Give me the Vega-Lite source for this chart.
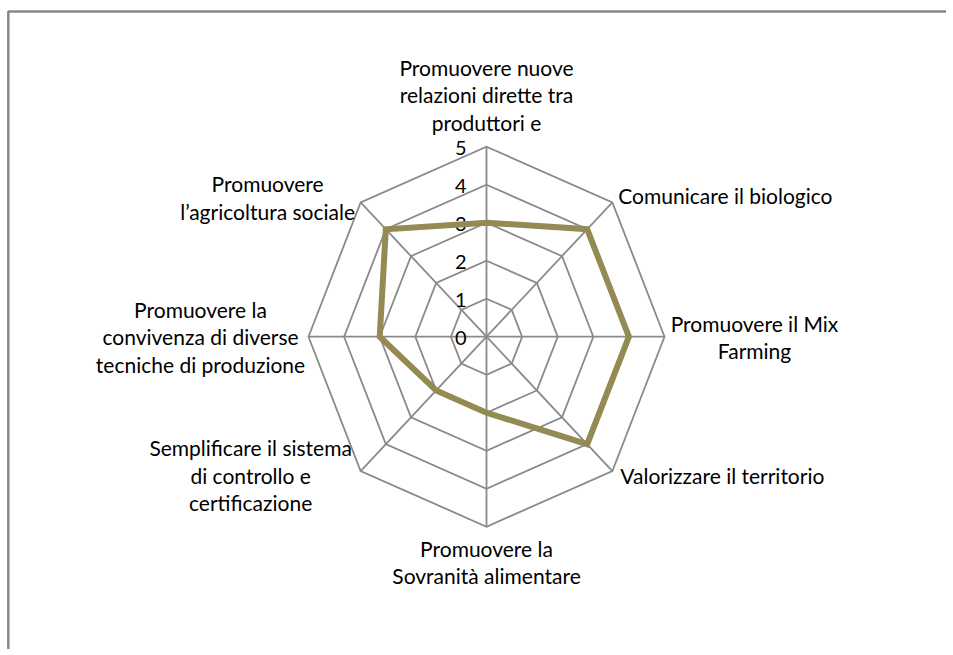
{
  "$schema": "https://vega.github.io/schema/vega-lite/v6.json",
  "autosize": {"type": "none"},
  "padding": {"left": 8, "top": 11, "right": 0, "bottom": 0},
  "width": 938,
  "height": 638,
  "background": "white",
  "config": {
    "view": {"stroke": null},
    "text": {"font": "Lato", "fontSize": 21, "color": "#000000"}
  },
  "datasets": {
    "cats": [
      {"i": 0, "label": "Promuovere nuove\nrelazioni dirette tra\nproduttori e", "value": 3},
      {"i": 1, "label": "Comunicare il biologico", "value": 4},
      {"i": 2, "label": "Promuovere il Mix\nFarming", "value": 4},
      {"i": 3, "label": "Valorizzare il territorio", "value": 4},
      {"i": 4, "label": "Promuovere la\nSovranità alimentare", "value": 2},
      {"i": 5, "label": "Semplificare il sistema\ndi controllo e\ncertificazione", "value": 2},
      {"i": 6, "label": "Promuovere la\nconvivenza di diverse\ntecniche di produzione", "value": 3},
      {"i": 7, "label": "Promuovere\nl’agricoltura sociale", "value": 4}
    ],
    "grid": [
      {"i": 0, "level": 1}, {"i": 1, "level": 1}, {"i": 2, "level": 1}, {"i": 3, "level": 1}, {"i": 4, "level": 1}, {"i": 5, "level": 1}, {"i": 6, "level": 1}, {"i": 7, "level": 1},
      {"i": 0, "level": 2}, {"i": 1, "level": 2}, {"i": 2, "level": 2}, {"i": 3, "level": 2}, {"i": 4, "level": 2}, {"i": 5, "level": 2}, {"i": 6, "level": 2}, {"i": 7, "level": 2},
      {"i": 0, "level": 3}, {"i": 1, "level": 3}, {"i": 2, "level": 3}, {"i": 3, "level": 3}, {"i": 4, "level": 3}, {"i": 5, "level": 3}, {"i": 6, "level": 3}, {"i": 7, "level": 3},
      {"i": 0, "level": 4}, {"i": 1, "level": 4}, {"i": 2, "level": 4}, {"i": 3, "level": 4}, {"i": 4, "level": 4}, {"i": 5, "level": 4}, {"i": 6, "level": 4}, {"i": 7, "level": 4},
      {"i": 0, "level": 5}, {"i": 1, "level": 5}, {"i": 2, "level": 5}, {"i": 3, "level": 5}, {"i": 4, "level": 5}, {"i": 5, "level": 5}, {"i": 6, "level": 5}, {"i": 7, "level": 5}
    ],
    "ticks": [{"t": 0}, {"t": 1}, {"t": 2}, {"t": 3}, {"t": 4}, {"t": 5}]
  },
  "encoding": {
    "x": {"field": "x", "type": "quantitative", "scale": {"domain": [-13.441, 12.907], "nice": false, "zero": false}, "axis": null},
    "y": {"field": "y", "type": "quantitative", "scale": {"domain": [-8.218, 8.571], "nice": false, "zero": false}, "axis": null}
  },
  "layer": [
    {
      "data": {"values": [{}]},
      "transform": [
        {"calculate": "-13.441", "as": "x"},
        {"calculate": "8.555", "as": "y"}
      ],
      "mark": {"type": "rule", "color": "#878787", "strokeWidth": 2.5},
      "encoding": {"x2": {"datum": 12.907}}
    },
    {
      "data": {"values": [{}]},
      "transform": [
        {"calculate": "-13.432", "as": "x"},
        {"calculate": "8.571", "as": "y"}
      ],
      "mark": {"type": "rule", "color": "#878787", "strokeWidth": 2.5},
      "encoding": {"y2": {"datum": -8.218}}
    },
    {
      "data": {"name": "grid"},
      "transform": [
        {"calculate": "datum.level * sin(datum.i * PI / 4)", "as": "x"},
        {"calculate": "datum.level * cos(datum.i * PI / 4)", "as": "y"}
      ],
      "mark": {"type": "line", "interpolate": "linear-closed", "color": "#8a8a8a", "strokeWidth": 1.8},
      "encoding": {"detail": {"field": "level", "type": "nominal"}, "order": {"field": "i", "type": "quantitative"}}
    },
    {
      "data": {"name": "cats"},
      "transform": [
        {"calculate": "5 * sin(datum.i * PI / 4)", "as": "x"},
        {"calculate": "5 * cos(datum.i * PI / 4)", "as": "y"}
      ],
      "mark": {"type": "rule", "color": "#8a8a8a", "strokeWidth": 1.8},
      "encoding": {"x2": {"datum": 0}, "y2": {"datum": 0}}
    },
    {
      "data": {"name": "ticks"},
      "transform": [
        {"calculate": "0", "as": "x"},
        {"calculate": "datum.t", "as": "y"}
      ],
      "mark": {"type": "text", "align": "right", "baseline": "middle", "dx": -20, "dy": 2, "fontSize": 20},
      "encoding": {"text": {"field": "t", "type": "quantitative"}}
    },
    {
      "data": {"name": "cats"},
      "transform": [
        {"calculate": "datum.value * sin(datum.i * PI / 4)", "as": "x"},
        {"calculate": "datum.value * cos(datum.i * PI / 4)", "as": "y"}
      ],
      "mark": {"type": "line", "interpolate": "linear-closed", "color": "#948A54", "strokeWidth": 6},
      "encoding": {"order": {"field": "i", "type": "quantitative"}}
    },
    {
      "data": {"name": "cats"},
      "transform": [
        {"filter": "datum.i == 0"},
        {"calculate": "5 * sin(datum.i * PI / 4)", "as": "x"},
        {"calculate": "5 * cos(datum.i * PI / 4)", "as": "y"}
      ],
      "mark": {"type": "text", "align": "center", "baseline": "middle", "lineBreak": "\n", "lineHeight": 27.5, "dx": 0, "dy": -77},
      "encoding": {"text": {"field": "label"}}
    },
    {
      "data": {"name": "cats"},
      "transform": [
        {"filter": "datum.i == 1"},
        {"calculate": "5 * sin(datum.i * PI / 4)", "as": "x"},
        {"calculate": "5 * cos(datum.i * PI / 4)", "as": "y"}
      ],
      "mark": {"type": "text", "align": "center", "baseline": "middle", "lineBreak": "\n", "lineHeight": 27.5, "dx": 113, "dy": -4},
      "encoding": {"text": {"field": "label"}}
    },
    {
      "data": {"name": "cats"},
      "transform": [
        {"filter": "datum.i == 2"},
        {"calculate": "5 * sin(datum.i * PI / 4)", "as": "x"},
        {"calculate": "5 * cos(datum.i * PI / 4)", "as": "y"}
      ],
      "mark": {"type": "text", "align": "center", "baseline": "middle", "lineBreak": "\n", "lineHeight": 27.5, "dx": 90, "dy": -11},
      "encoding": {"text": {"field": "label"}}
    },
    {
      "data": {"name": "cats"},
      "transform": [
        {"filter": "datum.i == 3"},
        {"calculate": "5 * sin(datum.i * PI / 4)", "as": "x"},
        {"calculate": "5 * cos(datum.i * PI / 4)", "as": "y"}
      ],
      "mark": {"type": "text", "align": "center", "baseline": "middle", "lineBreak": "\n", "lineHeight": 27.5, "dx": 110, "dy": 7},
      "encoding": {"text": {"field": "label"}}
    },
    {
      "data": {"name": "cats"},
      "transform": [
        {"filter": "datum.i == 4"},
        {"calculate": "5 * sin(datum.i * PI / 4)", "as": "x"},
        {"calculate": "5 * cos(datum.i * PI / 4)", "as": "y"}
      ],
      "mark": {"type": "text", "align": "center", "baseline": "middle", "lineBreak": "\n", "lineHeight": 27.5, "dx": 0, "dy": 24},
      "encoding": {"text": {"field": "label"}}
    },
    {
      "data": {"name": "cats"},
      "transform": [
        {"filter": "datum.i == 5"},
        {"calculate": "5 * sin(datum.i * PI / 4)", "as": "x"},
        {"calculate": "5 * cos(datum.i * PI / 4)", "as": "y"}
      ],
      "mark": {"type": "text", "align": "center", "baseline": "middle", "lineBreak": "\n", "lineHeight": 27.5, "dx": -110, "dy": -21},
      "encoding": {"text": {"field": "label"}}
    },
    {
      "data": {"name": "cats"},
      "transform": [
        {"filter": "datum.i == 6"},
        {"calculate": "5 * sin(datum.i * PI / 4)", "as": "x"},
        {"calculate": "5 * cos(datum.i * PI / 4)", "as": "y"}
      ],
      "mark": {"type": "text", "align": "center", "baseline": "middle", "lineBreak": "\n", "lineHeight": 27.5, "dx": -108, "dy": -25},
      "encoding": {"text": {"field": "label"}}
    },
    {
      "data": {"name": "cats"},
      "transform": [
        {"filter": "datum.i == 7"},
        {"calculate": "5 * sin(datum.i * PI / 4)", "as": "x"},
        {"calculate": "5 * cos(datum.i * PI / 4)", "as": "y"}
      ],
      "mark": {"type": "text", "align": "center", "baseline": "middle", "lineBreak": "\n", "lineHeight": 27.5, "dx": -93, "dy": -16},
      "encoding": {"text": {"field": "label"}}
    }
  ]
}
